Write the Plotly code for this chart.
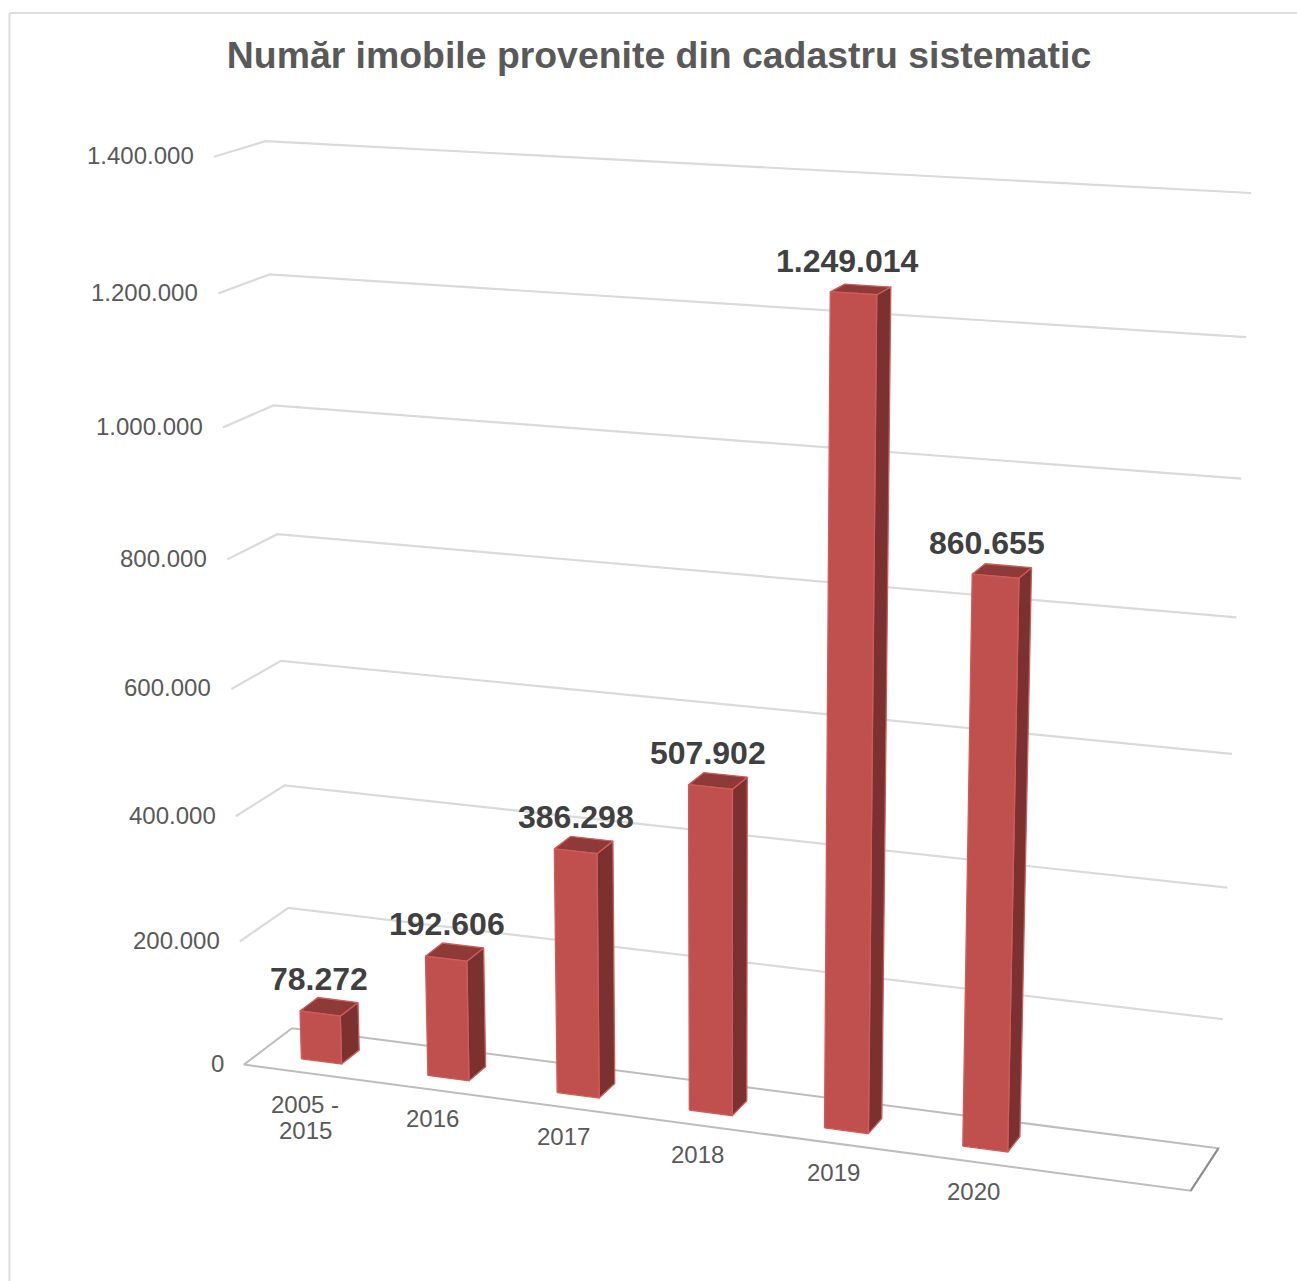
import numpy as np
import plotly.graph_objects as go

TITLE = "Număr imobile provenite din cadastru sistematic"
categories = ["2005 -<br>2015", "2016", "2017", "2018", "2019", "2020"]
values = [78272, 192606, 386298, 507902, 1249014, 860655]
value_labels = ["78.272", "192.606", "386.298", "507.902", "1.249.014", "860.655"]
axis_ticks = [0, 200000, 400000, 600000, 800000, 1000000, 1200000, 1400000]
axis_tick_labels = ["0", "200.000", "400.000", "600.000", "800.000", "1.000.000", "1.200.000", "1.400.000"]

W, H = 1297, 1281
FONT = "Liberation Sans, Arial, sans-serif"
X0, X1 = -0.5, 6.5          # floor extent in category slots (one empty slot on the right)
BAR_HALF = 0.16
BAR_OFFSET = 0.0
D0, D1 = 0.31, 0.69         # bar extent along the depth axis
LABEL_NUDGE_X = [-10, -8, -8, -10, -13, -15]

# Camera calibration of the 3D view: wall corners -> picture position
walls = []
left_front = [(243, 1063), (240, 942), (235, 818), (232, 690), (228, 559), (222, 428), (219, 293), (213, 157)]
left_back = [(293, 1028), (288, 908), (284, 785), (280, 661), (277, 534), (274, 405), (270, 274), (267, 141)]
right_back = [(1218, 1148), (1223, 1021), (1227, 888), (1232, 754), (1237, 618), (1241, 479), (1246, 337), (1250, 192)]
for k, z in enumerate(axis_ticks):
    walls.append((X0, 0, z, *left_front[k]))
    walls.append((X0, 1, z, *left_back[k]))
    walls.append((X1, 1, z, *right_back[k]))
walls.append((X1, 0, 0, 1192, 1189))

A, b = [], []
for x, d, z, u, v in walls:
    z = z / 1e6
    A.append([x, d, z, 1, 0, 0, 0, 0, -u * x, -u * d, -u * z]); b.append(u)
    A.append([0, 0, 0, 0, x, d, z, 1, -v * x, -v * d, -v * z]); b.append(v)
p = np.linalg.lstsq(np.array(A, float), np.array(b, float), rcond=None)[0]
P = np.append(p, 1).reshape(3, 4)


def project(x, d, z):
    q = P @ np.array([x, d, z / 1e6, 1.0])
    return float(q[0] / q[2]), float(q[1] / q[2])


def poly(points):
    xy = [project(*pt) for pt in points]
    return [a for a, _ in xy], [c for _, c in xy]


fig = go.Figure()


def add_line(points, color, width):
    xs, ys = poly(points)
    fig.add_trace(go.Scatter(x=xs, y=ys, mode="lines", line=dict(color=color, width=width),
                             hoverinfo="skip", showlegend=False))


def add_face(points, color):
    xs, ys = poly(points + points[:1])
    fig.add_trace(go.Scatter(x=xs, y=ys, mode="lines", fill="toself", fillcolor=color,
                             line=dict(color="#CF5C5A", width=1.3), hoverinfo="skip", showlegend=False))


# gridlines on the left and back walls
for z in axis_ticks[1:]:
    add_line([(X0, 0, z), (X0, 1, z), (X1, 1, z)], "#DADADA", 2.2)

# floor
add_line([(X0, 1, 0), (X1, 1, 0), (X1, 0, 0), (X0, 0, 0), (X0, 1, 0)], "#BDBDBD", 2)
add_line([(X1, 1, 0), (X1, 0, 0)], "#8C8C8C", 2)

# bars
for i, v in enumerate(values):
    xa, xb = i + BAR_OFFSET - BAR_HALF, i + BAR_OFFSET + BAR_HALF
    add_face([(xb, D0, 0), (xb, D1, 0), (xb, D1, v), (xb, D0, v)], "#7B3130")
    add_face([(xa, D0, v), (xb, D0, v), (xb, D1, v), (xa, D1, v)], "#8E3A38")
    add_face([(xa, D0, 0), (xb, D0, 0), (xb, D0, v), (xa, D0, v)], "#C0504D")

annotations = []
for z, label in zip(axis_ticks, axis_tick_labels):
    u, w = project(X0, 0, z)
    annotations.append(dict(x=u, y=w, text=label, xanchor="right", yanchor="middle", showarrow=False,
                            xshift=-18, yshift=1.2, font=dict(family=FONT, size=24, color="#595959")))
for i, cat in enumerate(categories):
    u, w = project(i + BAR_OFFSET, 0, 0)
    lines = cat.split("<br>")
    extra = -3 if len(lines) > 1 else 0
    for j, line in enumerate(lines):
        annotations.append(dict(x=u, y=w, text=line, xanchor="center", yanchor="middle", showarrow=False,
                                xshift=-1.5, yshift=-29 + extra - 26 * j, font=dict(family=FONT, size=24, color="#595959")))
for i, (v, label) in enumerate(zip(values, value_labels)):
    u, w = project(i + BAR_OFFSET, (D0 + D1) / 2, v)
    annotations.append(dict(x=u, y=w, text=f"<b>{label}</b>", xanchor="center", yanchor="middle", showarrow=False,
                            xshift=LABEL_NUDGE_X[i], yshift=28, font=dict(family=FONT, size=32, color="#404040")))

fig.update_layout(
    width=W, height=H, margin=dict(l=0, r=0, t=0, b=0), paper_bgcolor="white", plot_bgcolor="white",
    showlegend=False,
    title=dict(text=f"<b>{TITLE}</b>", x=659 / W, y=1 - 55 / H, xanchor="center", yanchor="middle",
               font=dict(family=FONT, size=37.4, color="#595959")),
    xaxis=dict(visible=False, range=[0, W], fixedrange=True),
    yaxis=dict(visible=False, range=[H, 0], fixedrange=True),
    annotations=annotations,
    shapes=[dict(type="line", xref="x", yref="y", x0=9.5, x1=9.5, y0=13, y1=H, line=dict(color="#DEDEDE", width=2)),
            dict(type="line", xref="x", yref="y", x0=9.5, x1=W, y0=13, y1=13, line=dict(color="#DEDEDE", width=2))],
)
fig.write_html("out.html", config={"displayModeBar": False},
               post_script="document.body.style.margin='0';document.body.style.overflow='hidden';")
